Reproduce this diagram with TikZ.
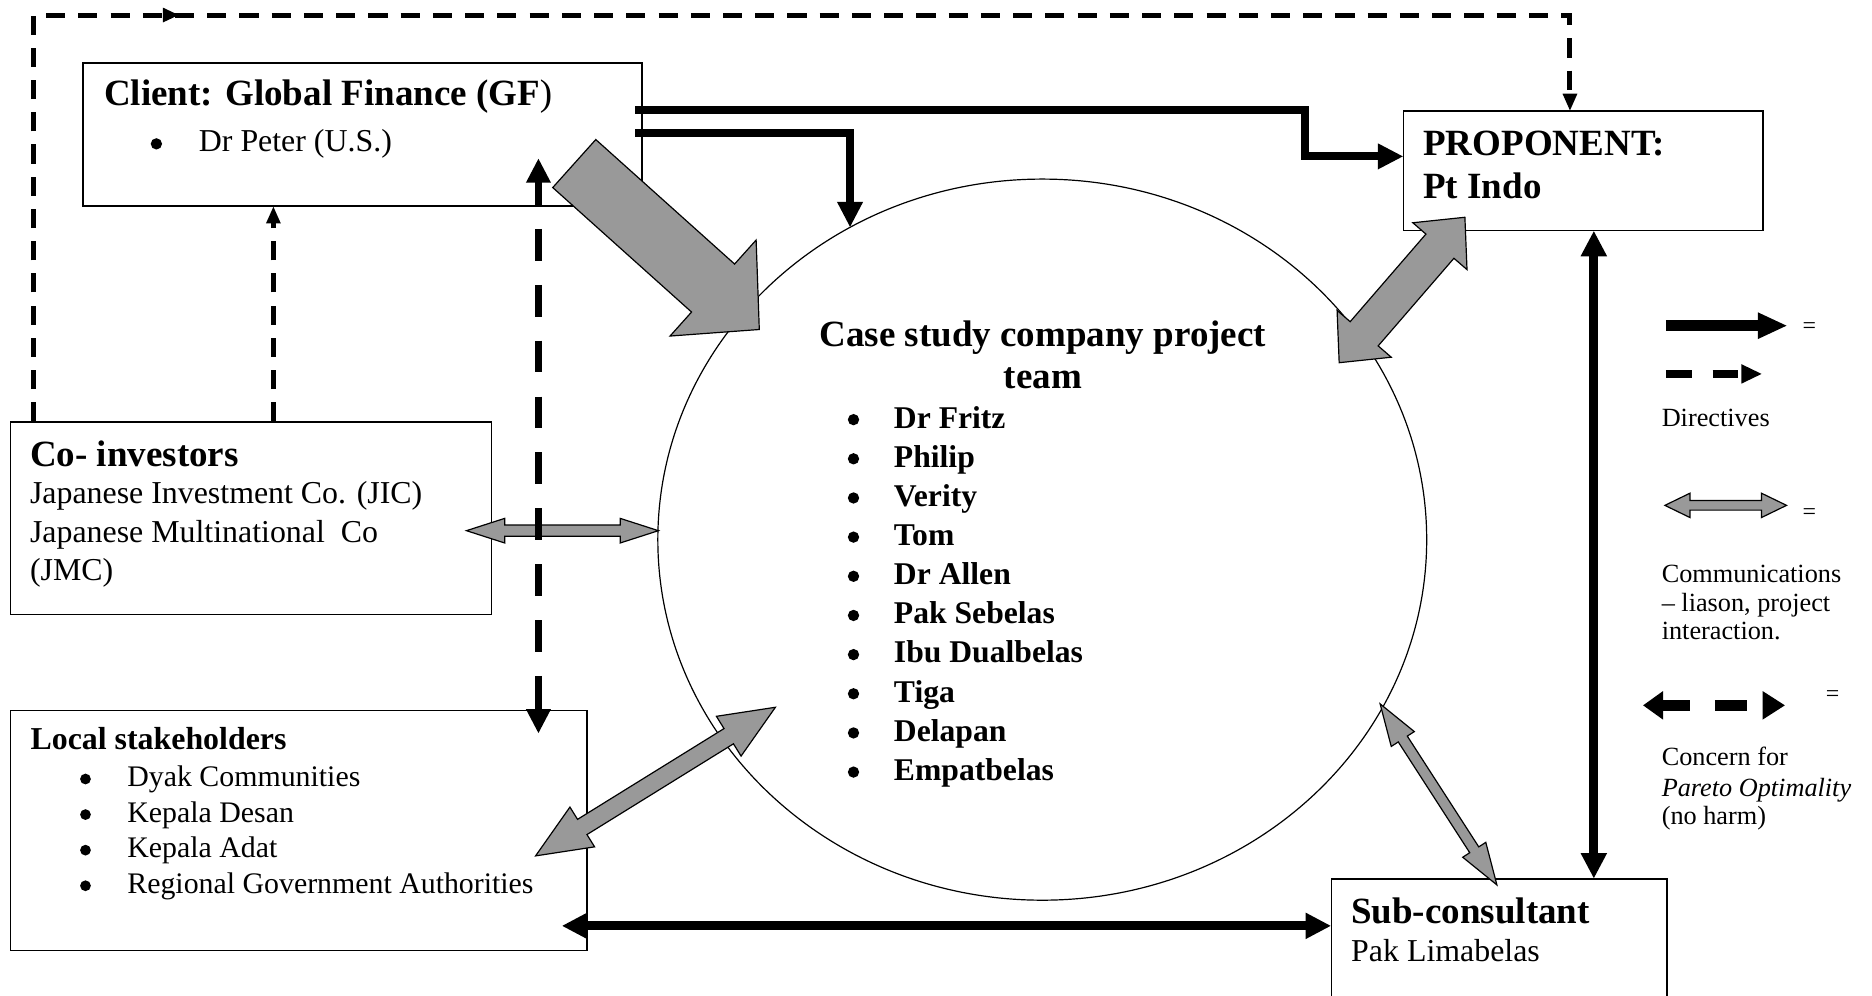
\documentclass[tikz,border=0pt]{standalone}
\usepackage{fontspec}
\setmainfont{Liberation Serif}
\usetikzlibrary{arrows.meta,calc,shapes.geometric}
\definecolor{commgray}{RGB}{153,153,153}

% Broad grey block arrows, built in a frame that runs from #1 to #2.
% #3 half shaft width, #4 half head width, #5 head length (all in pt)
\newcommand\fatsingle[5]{%
  \filldraw[fat] let \p1=(#1), \p2=(#2),
      \n1={atan2(\y2-\y1,\x2-\x1)}, \n2={veclen(\x2-\x1,\y2-\y1)}, \n3={\n2-#5pt} in
    ([fatframe]0pt,#3pt) -- ([fatframe]{\n3+0pt},#3pt) -- ([fatframe]{\n3+0pt},#4pt)
    -- ([fatframe]{\n2+0pt},0pt) -- ([fatframe]{\n3+0pt},-#4pt) -- ([fatframe]{\n3+0pt},-#3pt)
    -- ([fatframe]0pt,-#3pt) -- cycle;}
\newcommand\fatdouble[5]{%
  \filldraw[fat] let \p1=(#1), \p2=(#2),
      \n1={atan2(\y2-\y1,\x2-\x1)}, \n2={veclen(\x2-\x1,\y2-\y1)}, \n3={\n2-#5pt} in
    ([fatframe]0pt,0pt) -- ([fatframe]#5pt,#4pt) -- ([fatframe]#5pt,#3pt)
    -- ([fatframe]{\n3+0pt},#3pt) -- ([fatframe]{\n3+0pt},#4pt) -- ([fatframe]{\n2+0pt},0pt)
    -- ([fatframe]{\n3+0pt},-#4pt) -- ([fatframe]{\n3+0pt},-#3pt) -- ([fatframe]#5pt,-#3pt)
    -- ([fatframe]#5pt,-#4pt) -- cycle;}

\begin{document}
\begin{tikzpicture}[x=1pt,y=-1pt,
  fatframe/.style={shift={(\p1)},rotate=\n1},
  fat/.style={fill=commgray,draw=black,line width=1pt,line join=miter},
  box/.style={draw,line width=1.2pt,anchor=north west,inner sep=0pt},
  txt/.style={anchor=base west,inner sep=0pt},
  dot/.style={circle,fill,inner sep=0pt,minimum size=9.5pt},
  smalldot/.style={circle,fill,inner sep=0pt,minimum size=9pt},
  head/.style={font=\fontsize{31}{36}\selectfont\bfseries},
  smallhead/.style={font=\fontsize{26.7}{31}\selectfont\bfseries},
  body/.style={font=\fontsize{26.7}{31}\selectfont},
  member/.style={font=\fontsize{26.5}{31}\selectfont\bfseries},
  localitem/.style={font=\fontsize{25}{29}\selectfont},
  legend/.style={font=\fontsize{22}{25}\selectfont},
  eqsign/.style={font=\fontsize{20}{22}\selectfont,anchor=center,inner sep=0pt},
  directive/.style={line width=6.7pt,-{Triangle[length=21pt,width=22pt,line width=0pt]}},
  twoway/.style={line width=7.5pt,{Triangle[length=21pt,width=22.3pt,line width=0pt]}-{Triangle[length=21pt,width=22.3pt,line width=0pt]}},
  thindash/.style={line width=4.2pt,dash pattern=on 16pt off 11pt,-{Triangle[length=14pt,width=12.5pt,line width=0pt]}},
  concern/.style={line width=6.4pt,dash pattern=on 26.6pt off 20.2pt},
  concerntip/.style={line width=6.4pt,-{Triangle[length=20pt,width=21pt,line width=0pt]}}
]
\useasboundingbox (0,0) rectangle (1568,834);
\clip (0,0) rectangle (1568,834);

% ---------- boxes and the project team ----------
\node[box,minimum width=468pt,minimum height=120pt] (client) at (69,52) {};
\node[box,minimum width=301pt,minimum height=100pt] (proponent) at (1175,92.5) {};
\node[box,minimum width=403pt,minimum height=161pt] (coinv) at (8,353) {};
\node[box,minimum width=483pt,minimum height=201pt] (local) at (8,594.5) {};
\node[box,minimum width=281pt,minimum height=140pt] (subc) at (1114.5,735.5) {};
\node[draw,ellipse,line width=1pt,minimum width=644pt,minimum height=604pt,inner sep=0pt] (team) at (873,452) {};

% ---------- texts ----------
\node[txt,head] (clientT) at (87,88) {Client: Global Finance (GF\textmd{)}};
\node[dot] (clientB) at (131,120.5) {};
\node[txt,body] (clientP) at (166.4,127) {Dr Peter (U.S.)};

\node[txt,head] (propT) at (1192,130.6) {PROPONENT:};
\node[txt,head] (propN) at (1192,166) {Pt Indo};

\node[txt,head] (coinvT) at (25,391) {Co- investors};
\node[txt,body] (coinv1) at (25,422) {Japanese Investment Co. (JIC)};
\node[txt,body] (coinv2) at (25,454) {Japanese Multinational\ \ Co};
\node[txt,body] (coinv3) at (25,486) {(JMC)};

\node[txt,smallhead] (localT) at (25.4,628) {Local stakeholders};
\foreach \t [count=\i from 0] in {Dyak Communities,Kepala Desan,Kepala Adat,Regional Government Authorities}{
  \node[smalldot] (localB\i) at (71.6,652.5+29.8*\i) {};
  \node[txt,localitem] (localI\i) at (106.5,659+29.8*\i) {\t};
}

\node[anchor=base,inner sep=0pt,head] (teamT1) at (873.5,290) {Case study company project};
\node[anchor=base,inner sep=0pt,head] (teamT2) at (873.5,325) {team};
\foreach \t [count=\i from 0] in {Dr Fritz,Philip,Verity,Tom,Dr Allen,Pak Sebelas,Ibu Dualbelas,Tiga,Delapan,Empatbelas}{
  \node[dot] (teamB\i) at (714.9,351.5+32.8*\i) {};
  \node[txt,member] (teamM\i) at (748.6,358.5+32.8*\i) {\t};
}

\node[txt,head] (subcT) at (1131.6,773.3) {Sub-consultant};
\node[txt,body] (subcN) at (1131.6,805.4) {Pak Limabelas};

% ---------- dashed directives ----------
\coordinate (loopA) at (28,353);
\coordinate (loopB) at (28,12.6);
\coordinate (loopC) at (1315,12.6);
\draw[thindash] (loopA) -- (loopB) -- (loopC) -- (loopC |- proponent.north);
\fill (136.5,6.4) -- (149.6,12.6) -- (136.5,18.8) -- cycle;
\coordinate (ciUp) at (229,353);
\draw[thindash] (ciUp) -- (ciUp |- client.south);

% ---------- solid directives ----------
\path (client.north east) ++(-6,40) coordinate (gfOut1);
\path (client.north east) ++(-6,59.5) coordinate (gfOut2);
\coordinate (elbow) at (1093,92);
\path (proponent.north west) ++(0,38.5) coordinate (pIn);
\coordinate (teamIn) at (712,190);
\draw[directive] (gfOut1) -- (elbow) |- (pIn);
\draw[directive] (gfOut2) -| (teamIn);

\coordinate (vx) at (1335,0);
\draw[twoway] (vx |- proponent.south) -- (vx |- subc.north);
\coordinate (botL) at (471,775.5);
\draw[twoway] (botL) -- (subc.west |- botL);

% ---------- communications ----------
\coordinate (gfTail) at (481,137);   \coordinate (gfTip) at (636,276);
\fatsingle{gfTail}{gfTip}{27}{54}{52}
\coordinate (ptA) at (1121.7,303.8); \coordinate (ptB) at (1227,182);
\fatdouble{ptA}{ptB}{15.5}{30}{32}
\coordinate (ciA) at (390.7,444.5);  \coordinate (ciB) at (551.5,444.5);
\fatdouble{ciA}{ciB}{4.7}{10.3}{32}
\coordinate (lsA) at (448.6,716.9);  \coordinate (lsB) at (649.5,592.4);
\fatdouble{lsA}{lsB}{7.5}{19.6}{46}
\coordinate (scA) at (1156,589.6);   \coordinate (scB) at (1253.8,741.2);
\fatdouble{scA}{scB}{4.5}{11.5}{35}

% ---------- concern for Pareto optimality ----------
\coordinate (cTop) at (451,133);
\coordinate (cBot) at (451,614);
\draw[concern] (451,145) -- (451,596);
\draw[concerntip] (451,165) -- (cTop);
\draw[concerntip] (451,585) -- (cBot);

% ---------- legend ----------
\draw[line width=9pt,-{Triangle[length=24pt,width=22.4pt,line width=0pt]}] (1395.3,272.8) -- (1496.4,272.8);
\node[eqsign] (eq1) at (1515.5,275) {=};
\draw[line width=6.9pt,dash pattern=on 21.5pt off 17.6pt,-{Triangle[length=17pt,width=16.4pt,line width=0pt]}] (1395.3,313.2) -- (1475.5,313.2);
\node[txt,legend] (legDir) at (1391.7,357.4) {Directives};

\coordinate (lgA) at (1394.5,423.3); \coordinate (lgB) at (1496.4,423.3);
\fatdouble{lgA}{lgB}{4}{10.2}{21}
\node[eqsign] (eq2) at (1515.5,430.5) {=};
\node[txt,legend] (legC1) at (1391.7,488) {Communications};
\node[txt,legend] (legC2) at (1391.7,512) {– liason, project};
\node[txt,legend] (legC3) at (1391.7,536) {interaction.};

\draw[line width=9pt,dash pattern=on 22.4pt off 20.9pt on 26.6pt off 20pt,
  {Triangle[length=16.7pt,width=24pt,line width=0pt]}-{Triangle[length=18.7pt,width=24pt,line width=0pt]}]
  (1376.3,590.8) -- (1495,590.8);
\node[eqsign] (eq3) at (1535,583) {=};
\node[txt,legend] (legP1) at (1391.7,641.6) {Concern for};
\node[txt,legend] (legP2) at (1391.7,666.9) {\itshape Pareto Optimality};
\node[txt,legend] (legP3) at (1391.7,691) {(no harm)};
\end{tikzpicture}
\end{document}
